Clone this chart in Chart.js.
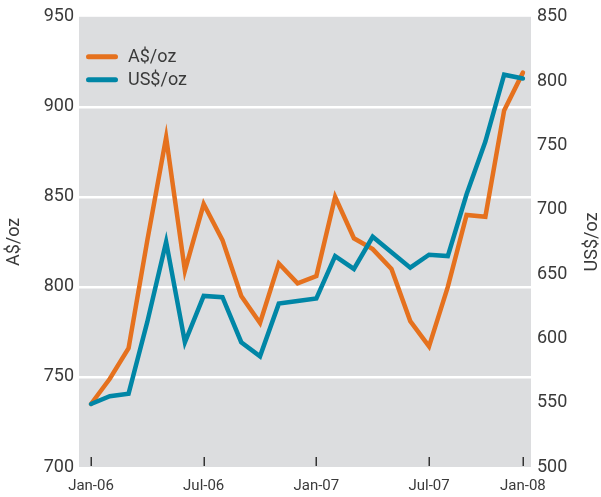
<!DOCTYPE html>
<html>
<head>
<meta charset="utf-8">
<script src="https://cdn.jsdelivr.net/npm/chart.js@4.4.1/dist/chart.umd.min.js"></script>
<style>
  html, body { margin: 0; padding: 0; background: #fff; }
</style>
</head>
<body>
<canvas id="goldChart" width="601" height="497"></canvas>
<script>
// monthly gold prices, Jan-06 .. Dec-07
const months = [
  "Jan-06", "Feb-06", "Mar-06", "Apr-06", "May-06", "Jun-06",
  "Jul-06", "Aug-06", "Sep-06", "Oct-06", "Nov-06", "Dec-06",
  "Jan-07", "Feb-07", "Mar-07", "Apr-07", "May-07", "Jun-07",
  "Jul-07", "Aug-07", "Sep-07", "Oct-07", "Nov-07", "Dec-07"
];
const audPrices = [735, 749, 766, 826, 883, 809, 846, 826, 795, 780, 813, 802,
                   806, 850, 827, 821, 810, 781, 767, 800, 840, 839, 898, 919];
const usdPrices = [549, 555, 557, 613, 675, 597, 633, 632, 597, 586, 627, 629,
                   631, 664, 654, 679, 667, 655, 665, 664, 712, 753, 805, 802];

// x-axis tick positions (month index) and their labels
const tickMonths = [0, 6, 12, 18, 23];
const tickLabels = ["Jan-06", "Jul-06", "Jan-07", "Jul-07", "Jan-08"];
const audTicks = [700, 750, 800, 850, 900, 950];
const usdTicks = [500, 550, 600, 650, 700, 750, 800, 850];

const ORANGE = "#e5711e";
const BLUE = "#0086a6";
const TEXT = "#3a3a3a";
const FONT = "Roboto, 'Open Sans', sans-serif";

// gray plot background
const plotBackground = {
  id: "plotBackground",
  beforeDraw(chart) {
    const { ctx, chartArea: a } = chart;
    ctx.save();
    ctx.fillStyle = "#dcdddf";
    ctx.fillRect(a.left, a.top, a.right - a.left, a.bottom - a.top);
    ctx.restore();
  }
};

// short tick marks inside the plot, on the x axis
const insideTicks = {
  id: "insideTicks",
  beforeDatasetsDraw(chart) {
    const { ctx, chartArea: a } = chart;
    const xScale = chart.scales.x;
    ctx.save();
    ctx.strokeStyle = "#333";
    ctx.lineWidth = 1.5;
    tickMonths.forEach((m) => {
      const px = Math.round(xScale.getPixelForValue(m)) + 0.25;
      ctx.beginPath();
      ctx.moveTo(px, a.bottom - 10);
      ctx.lineTo(px, a.bottom - 1);
      ctx.stroke();
    });
    ctx.restore();
  }
};

// legend in the top-left corner of the plot, and the right axis title
const extras = {
  id: "extras",
  afterDraw(chart) {
    const { ctx, chartArea: a } = chart;
    ctx.save();
    ctx.font = "18px " + FONT;
    ctx.textBaseline = "middle";
    chart.data.datasets.forEach((ds, i) => {
      const y = a.top + 40 + i * 23;
      ctx.strokeStyle = ds.borderColor;
      ctx.lineWidth = 5;
      ctx.lineCap = "round";
      ctx.beginPath();
      ctx.moveTo(a.left + 9.5, y);
      ctx.lineTo(a.left + 36.5, y);
      ctx.stroke();
      ctx.fillStyle = TEXT;
      ctx.textAlign = "left";
      ctx.fillText(ds.label, a.left + 49, y + 1);
    });
    // right axis title reads bottom to top
    ctx.translate(592, (a.top + a.bottom) / 2);
    ctx.rotate(-Math.PI / 2);
    ctx.textAlign = "center";
    ctx.fillStyle = TEXT;
    ctx.fillText("US$/oz", 0, 0);
    ctx.restore();
  }
};

const ctx = document.getElementById("goldChart").getContext("2d");
new Chart(ctx, {
  type: "line",
  data: {
    labels: months,
    datasets: [
      {
        label: "A$/oz",
        data: audPrices.map((v, i) => ({ x: i, y: v })),
        yAxisID: "yA",
        borderColor: ORANGE,
        borderWidth: 4.5,
        borderCapStyle: "round",
        pointRadius: 0,
        tension: 0,
        order: 1
      },
      {
        label: "US$/oz",
        data: usdPrices.map((v, i) => ({ x: i, y: v })),
        yAxisID: "yU",
        borderColor: BLUE,
        borderWidth: 4.5,
        borderCapStyle: "round",
        pointRadius: 0,
        tension: 0,
        order: 0
      }
    ]
  },
  options: {
    responsive: false,
    animation: false,
    events: [],
    layout: { padding: { top: 15, left: 0, right: 0, bottom: 0 } },
    plugins: {
      legend: { display: false },
      tooltip: { enabled: false }
    },
    scales: {
      x: {
        type: "linear",
        min: -0.64,
        max: 23.43,
        afterBuildTicks: (s) => { s.ticks = tickMonths.map((v) => ({ value: v })); },
        afterFit: (s) => { s.height = 30; },
        grid: { display: false, drawTicks: false },
        border: { display: false },
        ticks: {
          autoSkip: false,
          maxRotation: 0,
          padding: 10,
          color: TEXT,
          font: { family: FONT, size: 15 },
          callback: (v) => tickLabels[tickMonths.indexOf(v)]
        }
      },
      yA: {
        position: "left",
        min: 700,
        max: 950,
        afterBuildTicks: (s) => { s.ticks = audTicks.map((v) => ({ value: v })); },
        afterFit: (s) => { s.width = 79; },
        grid: {
          color: (c) => (c.tick && (c.tick.value === 700 || c.tick.value === 950)) ? "rgba(0,0,0,0)" : "#ffffff",
          lineWidth: 2.5,
          drawTicks: false
        },
        border: { display: false },
        ticks: { padding: 5, color: TEXT, font: { family: FONT, size: 18 } },
        title: {
          display: true,
          text: "A$/oz",
          color: TEXT,
          font: { family: FONT, size: 18 },
          padding: { top: 4, bottom: 0 }
        }
      },
      yU: {
        position: "right",
        min: 500,
        max: 850,
        afterBuildTicks: (s) => { s.ticks = usdTicks.map((v) => ({ value: v })); },
        afterFit: (s) => { s.width = 70; },
        grid: { display: false, drawTicks: false },
        border: { display: false },
        ticks: { padding: 6, color: TEXT, font: { family: FONT, size: 18 } }
      }
    }
  },
  plugins: [plotBackground, insideTicks, extras]
});
</script>
</body>
</html>
